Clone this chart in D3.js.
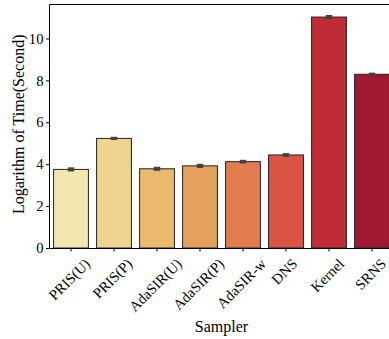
<!DOCTYPE html>
<html>
<head>
<meta charset="utf-8">
<script src="https://cdn.jsdelivr.net/npm/d3@7"></script>
<style>
  body { margin: 0; background: #fff; }
  svg { display: block; font-family: "Liberation Serif", "DejaVu Serif", serif; }
</style>
</head>
<body>
<div id="chart"></div>
<script>
// values
var samplers = ["PRIS(U)", "PRIS(P)", "AdaSIR(U)", "AdaSIR(P)", "AdaSIR-w", "DNS", "Kernel", "SRNS"];
var logTime = [3.75, 5.23, 3.78, 3.92, 4.12, 4.44, 11.02, 8.29];
var errs = [0.05, 0.03, 0.05, 0.05, 0.04, 0.04, 0.05, 0.03];
var colors = ["#f2e7b0", "#eed48f", "#eab96e", "#e5a05d", "#e27c4f", "#da5343", "#c12b35", "#a01832"];
var yTicks = [0, 2, 4, 6, 8, 10];

var width = 389, height = 339;
var plotL = 49.5, plotR = 393.5, plotT = 4.5, plotB = 248;

var svg = d3.select("#chart").append("svg")
    .attr("width", width)
    .attr("height", height);

var x = d3.scaleBand()
    .domain(samplers)
    .range([plotL, plotR])
    .paddingInner(0.19)
    .paddingOuter(0.095);

var y = d3.scaleLinear()
    .domain([0, 11.62])
    .range([plotB, plotT]);

// bars
svg.append("g")
    .selectAll("rect")
    .data(samplers)
    .enter()
    .append("rect")
    .attr("x", function(d){ return x(d); })
    .attr("y", function(d,i){ return y(logTime[i]); })
    .attr("width", x.bandwidth())
    .attr("height", function(d,i){ return plotB - y(logTime[i]); })
    .attr("fill", function(d,i){ return colors[i]; })
    .attr("stroke", "#222")
    .attr("stroke-width", 1);

// error bars
var eb = svg.append("g").attr("stroke", "#424242");
samplers.forEach(function(d,i){
    var cx = x(d) + x.bandwidth()/2;
    eb.append("line")
        .attr("x1", cx).attr("x2", cx)
        .attr("y1", y(logTime[i] + errs[i]) - 1)
        .attr("y2", y(logTime[i] - errs[i]) + 1)
        .attr("stroke-width", 6.5);
});

// frame: left, top, right (right one falls outside the view)
svg.append("path")
    .attr("d", "M" + plotL + "," + plotB + "V" + plotT + "H" + plotR + "V" + plotB)
    .attr("fill", "none")
    .attr("stroke", "#000").attr("stroke-width", 1);

// y axis
var yAxis = svg.append("g")
    .attr("transform", "translate(" + plotL + ",0)")
    .call(d3.axisLeft(y).tickValues(yTicks).tickSize(3.5).tickPadding(2.5).tickFormat(d3.format("d")));
yAxis.select(".domain").remove();
yAxis.selectAll("text").style("font-size", "14.67px").style("font-family", "Liberation Serif").attr("fill", "#000");
yAxis.selectAll("line").attr("stroke", "#000");

// x axis
var xAxis = svg.append("g")
    .attr("transform", "translate(0," + plotB + ")")
    .call(d3.axisBottom(x).tickSize(3.5).tickSizeOuter(0));
xAxis.select(".domain").attr("stroke", "#000");
xAxis.selectAll("line").attr("stroke", "#000");
xAxis.selectAll("text").remove();

// rotated labels, bbox centred under the tick
var s = Math.SQRT1_2;
samplers.forEach(function(d){
    var cx = x(d) + x.bandwidth()/2 - 1.5;
    var t = svg.append("text")
        .text(d)
        .style("font-size", "14.67px")
        .attr("text-anchor", "middle")
        .attr("dy", "0.33em");
    var w = t.node().getComputedTextLength();
    var h = 11;
    var bh = (w + h) * s;
    var cy = plotB + 9.5 + bh/2;
    t.attr("transform", "translate(" + cx + "," + cy + ") rotate(-45)");
});

svg.append("text")
    .text("Sampler")
    .attr("x", (plotL + plotR)/2)
    .attr("y", 331.5)
    .attr("text-anchor", "middle")
    .style("font-size", "16px");

svg.append("text")
    .text("Logarithm of Time(Second)")
    .attr("transform", "translate(23.5," + ((plotT + plotB)/2 - 2) + ") rotate(-90)")
    .attr("text-anchor", "middle")
    .style("font-size", "16px");
</script>
</body>
</html>
